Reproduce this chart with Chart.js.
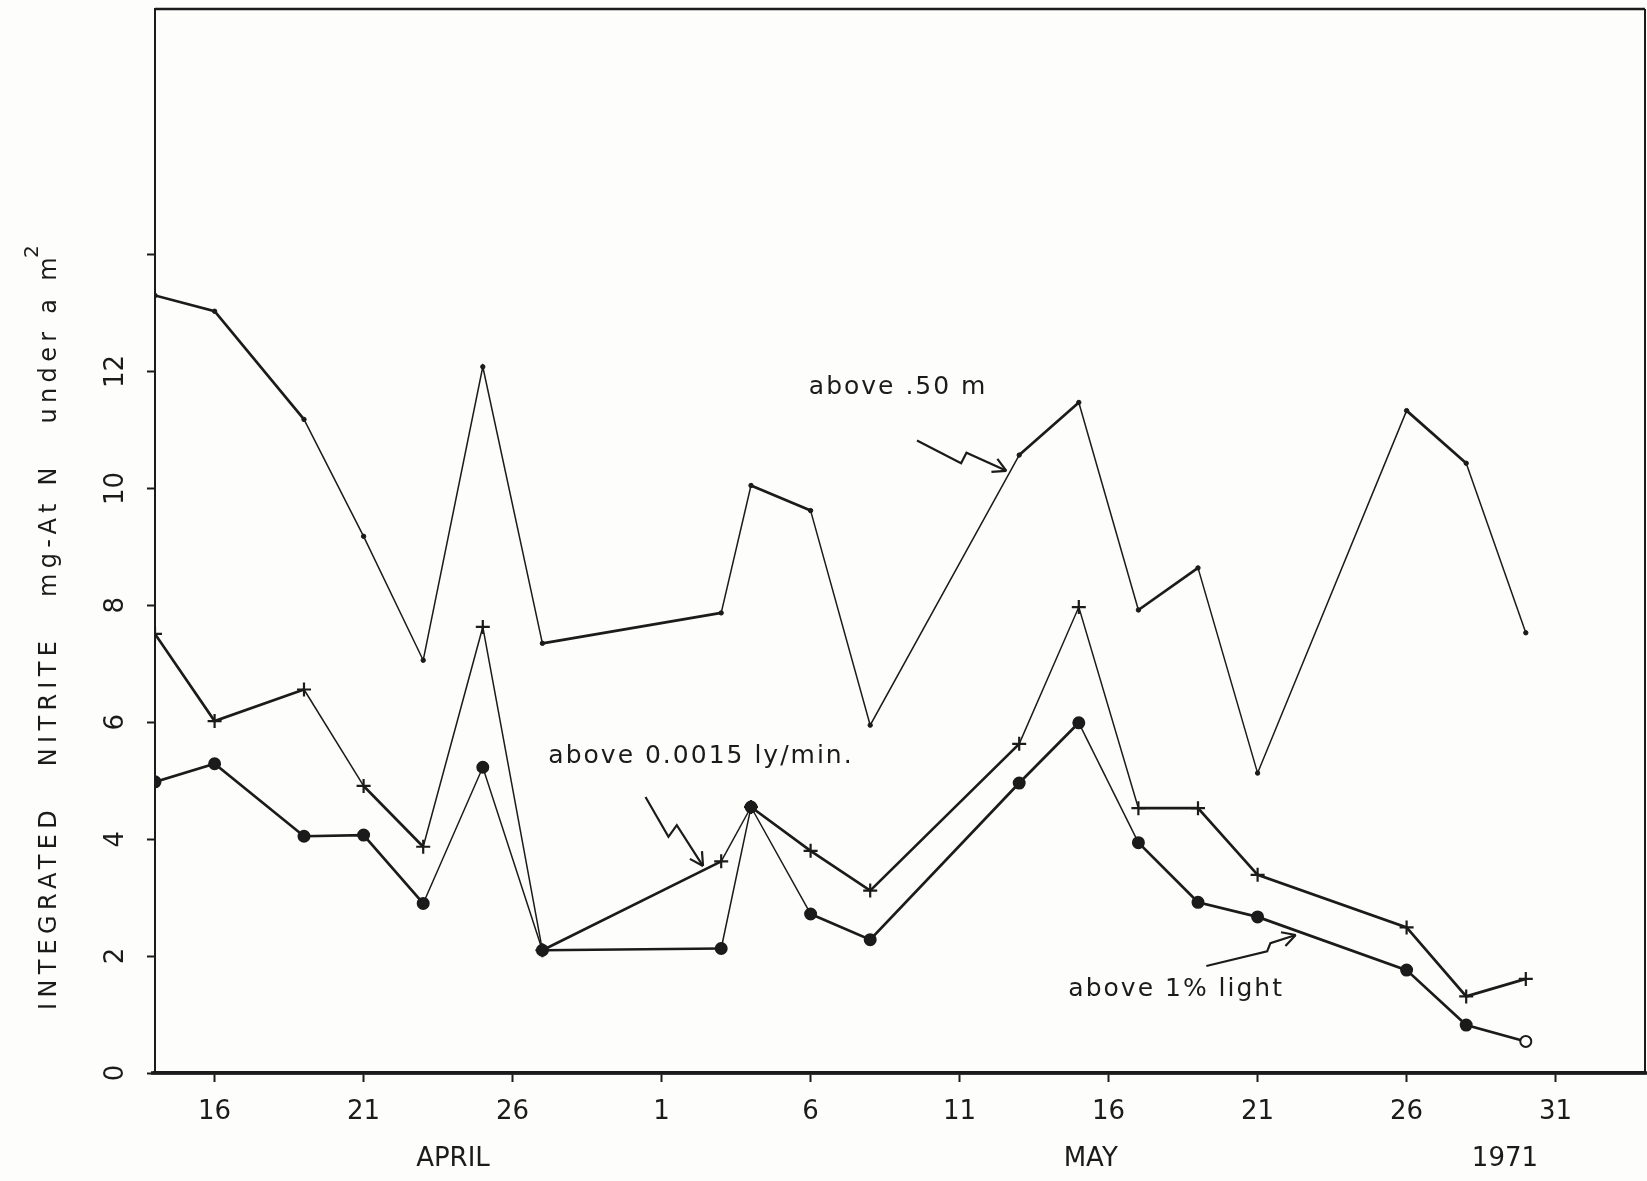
<!DOCTYPE html>
<html>
<head>
<meta charset="utf-8">
<script src="https://cdn.jsdelivr.net/npm/chart.js@4.4.1/dist/chart.umd.min.js"></script>
<style>
  html, body { margin: 0; padding: 0; background: #fff; }
  #wrap { width: 1647px; height: 1181px; }
</style>
</head>
<body>
<div id="wrap"><canvas id="chart" width="1647" height="1181"></canvas></div>
<script>
// sampling days counted from 1 April 1971 (so 1 May = 31)
const sampleDays = [14, 16, 19, 21, 23, 25, 27, 33, 34, 36, 38, 43, 45, 47, 49, 51, 56, 58, 60];
const above50m = [13.3, 13.03, 11.18, 9.18, 7.06, 12.08, 7.35, 7.87, 10.05, 9.62, 5.95, 10.57, 11.47, 7.92, 8.64, 5.13, 11.33, 10.43, 7.53];
const aboveLyMin = [7.51, 6.02, 6.56, 4.91, 3.87, 7.63, 2.10, 3.62, 4.55, 3.80, 3.12, 5.63, 7.97, 4.53, 4.53, 3.39, 2.49, 1.31, 1.61];
const aboveOnePct = [4.98, 5.29, 4.05, 4.07, 2.90, 5.23, 2.10, 2.13, 4.55, 2.72, 2.28, 4.96, 5.99, 3.94, 2.92, 2.67, 1.76, 0.82, 0.54];

const xTickDays = [16, 21, 26, 31, 36, 41, 46, 51, 56, 61];
const xTickLabels = ["16", "21", "26", "1", "6", "11", "16", "21", "26", "31"];
const yTickValues = [0, 2, 4, 6, 8, 10, 12, 14];
const yTickLabels = ["0", "2", "4", "6", "8", "10", "12", ""];
const monthNames = ["APRIL", "MAY", "1971"];
const monthDays = [24, 45.4, 59.3];

const yTitle = "INTEGRATED   NITRITE   mg-At N   under a m";
const seriesNotes = ["above .50 m", "above 0.0015 ly/min.", "above 1% light"];
// where each note sits and the zigzag arrow pointing at its curve, in (day, value)
const noteAnchors = [[35.94, 11.72], [27.2, 5.41], [44.65, 1.43]];
const arrowPaths = [
  [[39.57, 10.82], [41.05, 10.43], [41.23, 10.61], [42.57, 10.30]],
  [[30.46, 4.72], [31.23, 4.04], [31.51, 4.24], [32.39, 3.54]],
  [[49.28, 1.83], [51.32, 2.08], [51.43, 2.22], [52.28, 2.36]],
];

const ink = "#1b1b1b";
const face = (size) => `${size}px "DejaVu Sans", sans-serif`;

// hand-inked look: steep strokes come out thinner than shallow ones
function penWidth(ctx) {
  const dx = Math.abs(ctx.p1.x - ctx.p0.x);
  const dy = Math.abs(ctx.p1.y - ctx.p0.y);
  return dy > dx * 1.5 ? 1.5 : 2.7;
}

function series(label, values, extra) {
  return Object.assign({
    label,
    data: values.map((v, i) => ({ x: sampleDays[i], y: v })),
    borderColor: ink,
    backgroundColor: ink,
    pointBorderColor: ink,
    pointBackgroundColor: ink,
    borderWidth: 1.8,
    tension: 0,
    segment: { borderWidth: penWidth },
  }, extra);
}

const datasets = [
  series("above .50 m", above50m, { pointStyle: "circle", pointRadius: 2.2, pointBorderWidth: 1 }),
  series("above 0.0015 ly/min.", aboveLyMin, { pointStyle: "cross", pointRadius: 7, pointBorderWidth: 2.2 }),
  series("above 1% light", aboveOnePct, {
    pointStyle: "circle",
    pointRadius: 5.5,
    pointBorderWidth: 2,
    pointBackgroundColor: (ctx) => (ctx.dataIndex === aboveOnePct.length - 1 ? "#fff" : ink),
  }),
];

function drawArrow(ctx, pts) {
  ctx.beginPath();
  ctx.moveTo(pts[0][0], pts[0][1]);
  pts.slice(1).forEach((p) => ctx.lineTo(p[0], p[1]));
  ctx.stroke();
  const [a, b] = pts.slice(-2);
  const ang = Math.atan2(b[1] - a[1], b[0] - a[0]);
  ctx.beginPath();
  [0.5, -0.5].forEach((off) => {
    ctx.moveTo(b[0], b[1]);
    ctx.lineTo(b[0] - 15 * Math.cos(ang + off), b[1] - 15 * Math.sin(ang + off));
  });
  ctx.stroke();
}

const paperPlugin = {
  id: "paper",
  beforeDraw(chart) {
    const { ctx, width, height } = chart;
    ctx.save();
    ctx.fillStyle = "#fdfdfc";
    ctx.fillRect(0, 0, width, height);
    ctx.restore();
  },
  afterDraw(chart) {
    const { ctx, chartArea: area, scales: { x, y } } = chart;
    ctx.save();
    ctx.strokeStyle = ink;
    ctx.fillStyle = ink;

    // top and right of the frame; the base line runs on to the paper edge
    ctx.lineWidth = 2.5;
    ctx.beginPath();
    ctx.moveTo(area.left, area.top);
    ctx.lineTo(area.right, area.top);
    ctx.stroke();
    ctx.lineWidth = 2;
    ctx.beginPath();
    ctx.moveTo(area.right, area.top);
    ctx.lineTo(area.right, area.bottom);
    ctx.stroke();
    ctx.lineWidth = 3.5;
    ctx.beginPath();
    ctx.moveTo(area.left - 4, area.bottom);
    ctx.lineTo(chart.width, area.bottom);
    ctx.stroke();

    // y tick labels, lettered sideways
    ctx.font = face(26);
    ctx.textAlign = "center";
    ctx.textBaseline = "middle";
    yTickValues.forEach((v, i) => {
      if (!yTickLabels[i]) return;
      ctx.save();
      ctx.translate(116, y.getPixelForValue(v));
      ctx.rotate(-Math.PI / 2);
      ctx.fillText(yTickLabels[i], 0, 0);
      ctx.restore();
    });

    // month / year under the day numbers
    monthNames.forEach((name, i) => {
      ctx.fillText(name, x.getPixelForValue(monthDays[i]), 1159);
    });

    // y title, stretched along the axis like the lettering guide
    ctx.save();
    ctx.translate(50, 1010);
    ctx.rotate(-Math.PI / 2);
    ctx.textAlign = "left";
    ctx.font = face(24);
    const plain = ctx.measureText(yTitle).width;
    const spacing = (758 - plain) / yTitle.length;
    ctx.letterSpacing = spacing.toFixed(2) + "px";
    ctx.fillText(yTitle, 0, 0);
    const w = ctx.measureText(yTitle).width;
    ctx.font = face(20);
    ctx.fillText("2", w - 6, -17);
    ctx.restore();

    // curve notes with zigzag arrows
    ctx.font = face(25);
    ctx.textAlign = "left";
    ctx.letterSpacing = "2px";
    seriesNotes.forEach((note, i) => {
      const [d, v] = noteAnchors[i];
      ctx.fillText(note, x.getPixelForValue(d), y.getPixelForValue(v));
    });
    ctx.lineWidth = 2.2;
    arrowPaths.forEach((path) => {
      drawArrow(ctx, path.map(([d, v]) => [x.getPixelForValue(d), y.getPixelForValue(v)]));
    });
    ctx.restore();
  },
};

new Chart(document.getElementById("chart"), {
  type: "line",
  data: { datasets },
  options: {
    responsive: false,
    animation: false,
    layout: { autoPadding: false, padding: { top: 9, right: 2, left: 0, bottom: 0 } },
    plugins: { legend: { display: false }, tooltip: { enabled: false } },
    scales: {
      x: {
        type: "linear",
        min: 14,
        max: 64,
        afterBuildTicks: (axis) => { axis.ticks = xTickDays.map((v) => ({ value: v })); },
        afterFit: (axis) => {
          axis.height = 108;
          axis.paddingLeft = 0;
          axis.paddingRight = 0;
        },
        ticks: {
          callback: (value, index) => xTickLabels[index],
          font: { family: '"DejaVu Sans", sans-serif', size: 26 },
          color: ink,
          padding: 15,
          maxRotation: 0,
          autoSkip: false,
        },
        grid: { display: true, drawOnChartArea: false, drawTicks: true, tickLength: 9, tickWidth: 2, tickColor: ink },
        border: { display: true, color: ink, width: 3.5 },
      },
      y: {
        type: "linear",
        min: 0,
        max: 18.2,
        afterBuildTicks: (axis) => { axis.ticks = yTickValues.map((v) => ({ value: v })); },
        afterFit: (axis) => {
          axis.width = 155;
          axis.paddingTop = 0;
          axis.paddingBottom = 0;
        },
        ticks: { display: false },
        grid: { display: true, drawOnChartArea: false, drawTicks: true, tickLength: 8, tickWidth: 2, tickColor: ink },
        border: { display: true, color: ink, width: 2 },
      },
    },
  },
  plugins: [paperPlugin],
});
</script>
</body>
</html>
